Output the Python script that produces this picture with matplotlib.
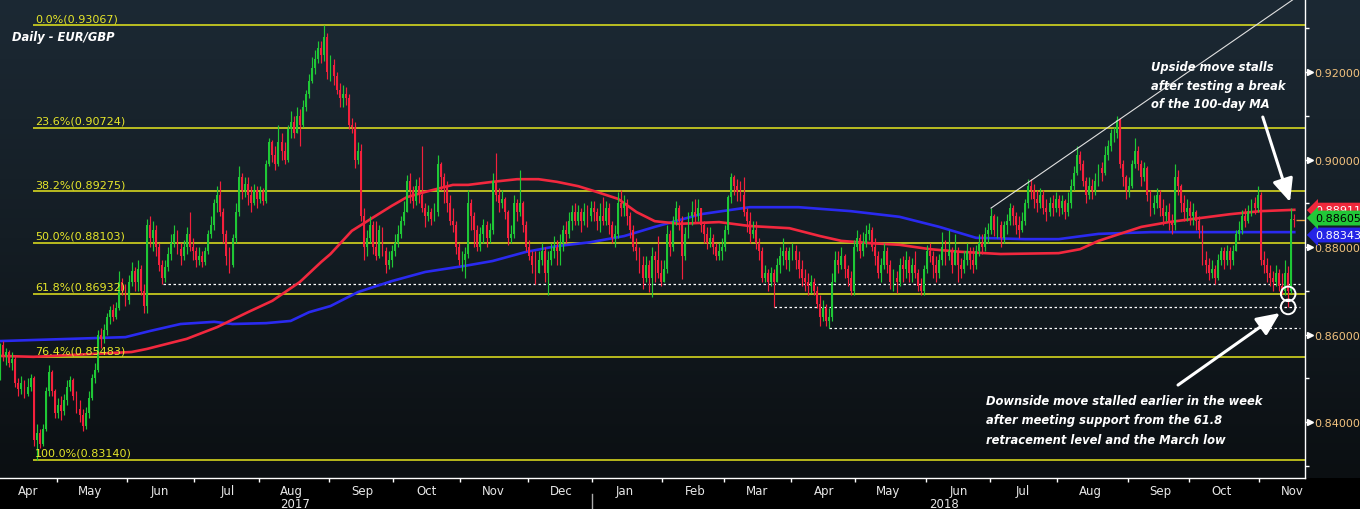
import numpy as np
import pandas as pd
import matplotlib
matplotlib.use('Agg')
import matplotlib.pyplot as plt
from matplotlib.colors import LinearSegmentedColormap

# EUR/GBP daily candles, in pips (x 0.0001); open = previous close
first_open = 8510
close_pips = [
    8575, 8550, 8560, 8535, 8545, 8490, 8475, 8490, 8465, 8480, 8500, 8360, 8375, 8350, 8385, 8470, 8515, 8470, 8420,  # Apr 17
    8440, 8425, 8450, 8480, 8495, 8460, 8430, 8415, 8390, 8420, 8455, 8500, 8520, 8600, 8590, 8610, 8640, 8655, 8640, 8660, 8720, 8700, 8680,  # May
    8720, 8745, 8720, 8750, 8700, 8665, 8850, 8820, 8840, 8800, 8760, 8730, 8755, 8785, 8810, 8830, 8795, 8780, 8800, 8830, 8800, 8790,  # Jun
    8770, 8780, 8765, 8790, 8830, 8850, 8900, 8920, 8880, 8830, 8780, 8760, 8820, 8880, 8960, 8930, 8945, 8920, 8900, 8930, 8910,  # Jul
    8925, 8905, 8990, 9040, 9010, 8990, 9040, 9020, 9000, 9070, 9085, 9060, 9100, 9080, 9120, 9150, 9180, 9210, 9230, 9255, 9240, 9280, 9200,  # Aug
    9215, 9190, 9160, 9140, 9150, 9140, 9080, 9075, 9000, 9020, 8870, 8800, 8820, 8850, 8800, 8780, 8840, 8790, 8760, 8770, 8790,  # Sep
    8810, 8830, 8860, 8880, 8950, 8930, 8905, 8940, 8920, 8890, 8870, 8880, 8865, 8880, 8990, 8960, 8940, 8900, 8860, 8850, 8800, 8770,  # Oct
    8770, 8785, 8900, 8870, 8840, 8800, 8830, 8850, 8820, 8840, 8950, 8920, 8900, 8910, 8880, 8820, 8830, 8900, 8880, 8900, 8850, 8800,  # Nov
    8780, 8760, 8740, 8770, 8790, 8740, 8770, 8790, 8800, 8790, 8810, 8840, 8830, 8860, 8880, 8860, 8880, 8860, 8880, 8870, 8890,  # Dec
    8880, 8860, 8870, 8860, 8890, 8850, 8820, 8830, 8900, 8890, 8900, 8870, 8840, 8800, 8790, 8760, 8730, 8760, 8730, 8780, 8770, 8740, 8720,  # Jan 18
    8750, 8830, 8800, 8860, 8890, 8860, 8780, 8830, 8870, 8880, 8870, 8890, 8850, 8830, 8810, 8820, 8800, 8780, 8790, 8800,  # Feb
    8840, 8915, 8960, 8940, 8925, 8920, 8880, 8860, 8830, 8840, 8810, 8790, 8730, 8740, 8720, 8740, 8720, 8760, 8780, 8790, 8770, 8790,  # Mar
    8790, 8770, 8750, 8730, 8720, 8710, 8720, 8700, 8670, 8640, 8660, 8630, 8640, 8720, 8770, 8760, 8780, 8750, 8730, 8700, 8800,  # Apr
    8820, 8790, 8810, 8830, 8840, 8800, 8780, 8740, 8760, 8790, 8760, 8720, 8730, 8720, 8760, 8750, 8770, 8740, 8760, 8740, 8710, 8700, 8750,  # May
    8790, 8780, 8760, 8740, 8770, 8800, 8780, 8790, 8760, 8790, 8760, 8750, 8770, 8790, 8770, 8760, 8790, 8810, 8800, 8830, 8840,  # Jun
    8870, 8840, 8850, 8820, 8850, 8860, 8890, 8870, 8850, 8840, 8860, 8900, 8940, 8930, 8910, 8900, 8920, 8890, 8880, 8900, 8890, 8910,  # Jul
    8890, 8905, 8880, 8900, 8940, 8970, 9010, 8990, 8950, 8920, 8940, 8930, 8950, 8980, 8970, 9010, 9030, 9060, 9060, 9090, 8990, 8960, 8930,  # Aug
    8940, 8990, 9020, 8990, 8960, 8980, 8920, 8890, 8900, 8920, 8890, 8870, 8880, 8860, 8850, 8960, 8940, 8900, 8880, 8890,  # Sep
    8870, 8880, 8860, 8840, 8770, 8760, 8740, 8750, 8730, 8770, 8790, 8770, 8790, 8770, 8790, 8830, 8840, 8870, 8860, 8880, 8900, 8890, 8920,  # Oct
    8770, 8760, 8740, 8730, 8720, 8740, 8710, 8700, 8740, 8700, 8865, 8861,  # Nov
]
high_pips = [
    8580, 8585, 8570, 8565, 8560, 8550, 8500, 8505, 8495, 8500, 8510, 8505, 8395, 8385, 8395, 8480, 8530, 8520, 8475,
    8455, 8460, 8465, 8495, 8505, 8500, 8470, 8450, 8430, 8435, 8470, 8510, 8535, 8610, 8615, 8625, 8650, 8665, 8670, 8675, 8745, 8730, 8715,
    8735, 8765, 8755, 8770, 8760, 8715, 8865, 8870, 8860, 8850, 8810, 8770, 8770, 8800, 8830, 8850, 8840, 8810, 8815, 8845, 8880, 8820,
    8800, 8800, 8790, 8800, 8840, 8870, 8910, 8940, 8950, 8890, 8840, 8800, 8830, 8900, 8985, 8970, 8960, 8960, 8940, 8945, 8940,
    8940, 8935, 9000, 9050, 9045, 9030, 9080, 9060, 9040, 9080, 9110, 9100, 9120, 9115, 9135, 9160, 9195, 9235, 9250, 9270, 9270, 9307, 9290,
    9240, 9230, 9200, 9175, 9170, 9165, 9150, 9095, 9085, 9040, 9035, 8890, 8840, 8870, 8860, 8860, 8850, 8845, 8800, 8790, 8805,
    8830, 8850, 8870, 8905, 8965, 8970, 8940, 8955, 8960, 9030, 8900, 8895, 8890, 8900, 9010, 8995, 8970, 8950, 8920, 8890, 8860, 8810,
    8790, 8800, 8930, 8910, 8880, 8850, 8845, 8865, 8860, 8855, 8970, 9015, 8935, 8930, 8915, 8885, 8850, 8920, 8910, 8975, 8905, 8860,
    8815, 8790, 8790, 8790, 8810, 8800, 8790, 8810, 8825, 8815, 8830, 8850, 8860, 8880, 8895, 8900, 8895, 8890, 8900, 8895, 8905,
    8905, 8890, 8900, 8915, 8905, 8900, 8860, 8850, 8925, 8930, 8920, 8910, 8880, 8850, 8820, 8800, 8780, 8780, 8770, 8800, 8790, 8825, 8770,
    8770, 8850, 8840, 8870, 8905, 8895, 8870, 8845, 8880, 8905, 8910, 8910, 8890, 8860, 8845, 8845, 8830, 8810, 8810, 8820,
    8850, 8920, 8970, 8965, 8955, 8950, 8960, 8890, 8880, 8860, 8860, 8820, 8800, 8760, 8750, 8755, 8750, 8775, 8800, 8820, 8800, 8800,
    8810, 8805, 8790, 8770, 8750, 8740, 8735, 8730, 8710, 8690, 8680, 8670, 8660, 8740, 8790, 8790, 8800, 8785, 8760, 8745, 8815,
    8840, 8830, 8835, 8850, 8855, 8845, 8820, 8790, 8775, 8810, 8800, 8770, 8750, 8745, 8775, 8780, 8790, 8780, 8775, 8790, 8750, 8730, 8760,
    8805, 8810, 8790, 8780, 8785, 8835, 8815, 8840, 8800, 8830, 8800, 8775, 8790, 8810, 8800, 8800, 8805, 8830, 8830, 8845, 8855,
    8890, 8875, 8870, 8860, 8860, 8875, 8900, 8895, 8880, 8870, 8880, 8910, 8955, 8955, 8945, 8930, 8935, 8930, 8910, 8915, 8920, 8925,
    8920, 8920, 8910, 8925, 8955, 8985, 9030, 9020, 9000, 8960, 8960, 8955, 8970, 8990, 8995, 9030, 9045, 9070, 9075, 9100, 9095, 9000, 8965,
    8960, 9000, 9050, 9030, 9000, 8995, 8985, 8930, 8920, 8935, 8930, 8910, 8895, 8900, 8875, 8990, 8975, 8945, 8920, 8910,
    8905, 8900, 8885, 8870, 8850, 8790, 8775, 8770, 8760, 8785, 8800, 8800, 8805, 8800, 8805, 8840, 8860, 8885, 8890, 8895, 8910, 8915, 8940,
    8925, 8790, 8775, 8760, 8745, 8760, 8750, 8740, 8770, 8757, 8890, 8875,
]
low_pips = [
    8495, 8540, 8530, 8525, 8520, 8480, 8460, 8465, 8455, 8460, 8470, 8345, 8314, 8340, 8345, 8380, 8460, 8460, 8410,
    8410, 8405, 8415, 8440, 8470, 8450, 8420, 8400, 8380, 8385, 8410, 8450, 8490, 8515, 8570, 8580, 8600, 8625, 8630, 8635, 8655, 8690, 8665,
    8670, 8710, 8700, 8700, 8690, 8650, 8650, 8800, 8790, 8780, 8745, 8715, 8720, 8745, 8770, 8800, 8785, 8760, 8770, 8785, 8790, 8770,
    8755, 8760, 8755, 8760, 8785, 8820, 8840, 8880, 8870, 8810, 8760, 8740, 8755, 8810, 8870, 8910, 8915, 8895, 8880, 8895, 8890,
    8900, 8895, 8900, 8985, 8995, 8975, 8985, 9000, 8990, 8995, 9050, 9050, 9060, 9030, 9075, 9110, 9140, 9175, 9195, 9220, 9220, 9225, 9185,
    9180, 9170, 9150, 9120, 9120, 9125, 9070, 9060, 8980, 8990, 8860, 8770, 8780, 8810, 8785, 8770, 8775, 8780, 8740, 8750, 8755,
    8780, 8800, 8820, 8850, 8880, 8900, 8890, 8895, 8900, 8880, 8845, 8860, 8850, 8860, 8870, 8930, 8900, 8880, 8850, 8835, 8785, 8760,
    8745, 8730, 8775, 8840, 8800, 8790, 8790, 8810, 8800, 8810, 8830, 8905, 8880, 8890, 8865, 8805, 8810, 8820, 8860, 8870, 8835, 8790,
    8770, 8740, 8715, 8740, 8760, 8720, 8690, 8760, 8775, 8760, 8760, 8790, 8810, 8820, 8840, 8850, 8850, 8835, 8850, 8845, 8860,
    8860, 8840, 8835, 8850, 8850, 8830, 8810, 8800, 8820, 8870, 8870, 8850, 8820, 8790, 8770, 8740, 8704, 8720, 8697, 8685, 8720, 8730, 8710,
    8730, 8740, 8780, 8790, 8850, 8840, 8727, 8770, 8820, 8850, 8855, 8860, 8835, 8810, 8795, 8800, 8785, 8770, 8770, 8770,
    8790, 8830, 8900, 8920, 8905, 8905, 8870, 8835, 8810, 8820, 8795, 8770, 8720, 8720, 8700, 8710, 8663, 8720, 8740, 8760, 8750, 8745,
    8770, 8750, 8730, 8710, 8700, 8690, 8695, 8690, 8660, 8620, 8630, 8620, 8615, 8630, 8720, 8740, 8750, 8730, 8710, 8690, 8690,
    8790, 8775, 8780, 8800, 8815, 8790, 8760, 8730, 8720, 8750, 8740, 8705, 8700, 8695, 8710, 8720, 8730, 8720, 8720, 8730, 8700, 8690, 8690,
    8740, 8765, 8730, 8720, 8730, 8760, 8760, 8770, 8740, 8760, 8720, 8730, 8740, 8760, 8750, 8740, 8750, 8780, 8785, 8790, 8810,
    8830, 8825, 8820, 8800, 8810, 8830, 8850, 8850, 8830, 8820, 8835, 8850, 8890, 8910, 8890, 8880, 8890, 8875, 8860, 8870, 8870, 8880,
    8870, 8875, 8865, 8870, 8890, 8930, 8965, 8975, 8940, 8900, 8910, 8910, 8920, 8940, 8950, 8965, 9000, 9020, 9040, 9050, 8980, 8940, 8910,
    8915, 8935, 8980, 8975, 8940, 8950, 8905, 8870, 8875, 8890, 8870, 8850, 8860, 8840, 8830, 8840, 8920, 8880, 8860, 8860,
    8850, 8850, 8840, 8820, 8760, 8740, 8725, 8730, 8715, 8725, 8760, 8750, 8760, 8750, 8760, 8790, 8815, 8830, 8845, 8855, 8870, 8875, 8880,
    8760, 8740, 8720, 8710, 8700, 8710, 8700, 8693, 8690, 8663, 8695, 8845,
]

# 100-day (red) and 200-day (blue) moving averages, read at bar positions
red_ma_idx = [0, 11, 43, 48, 61, 71, 81, 89, 98, 105, 108, 115, 120, 128, 133, 139, 148, 153, 161, 169,
              176, 182, 189, 195, 202, 208, 214, 222, 235, 245, 258, 268, 275, 284, 294, 304, 314, 327,
              346, 353, 359, 373, 382, 392, 402, 412, 423]
red_ma = [8551, 8549, 8560, 8567, 8590, 8617, 8651, 8677, 8720, 8766, 8784, 8837, 8859, 8894, 8914, 8926,
          8942, 8942, 8949, 8955, 8955, 8949, 8939, 8926, 8910, 8880, 8859, 8853, 8857, 8848, 8843, 8825,
          8814, 8809, 8805, 8795, 8789, 8784, 8786, 8795, 8814, 8846, 8857, 8866, 8875, 8882, 8885]
blue_ma_idx = [0, 41, 49, 59, 70, 76, 87, 95, 101, 108, 117, 128, 139, 152, 161, 172, 182, 193, 204, 214,
               229, 245, 261, 278, 294, 307, 319, 335, 346, 359, 376, 392, 408, 423]
blue_ma = [8585, 8594, 8608, 8624, 8629, 8624, 8626, 8631, 8651, 8665, 8697, 8722, 8743, 8757, 8768, 8789,
           8802, 8811, 8825, 8846, 8875, 8891, 8891, 8882, 8869, 8846, 8821, 8818, 8818, 8830, 8834, 8834,
           8834, 8834]

# Fibonacci retracement levels
fib_pct = ['0.0%', '23.6%', '38.2%', '50.0%', '61.8%', '76.4%', '100.0%']
fib_val = [0.93067, 0.90724, 0.89275, 0.88103, 0.86932, 0.85483, 0.83140]
fib_start = 10.8

# dotted support lines (level, first bar)
support_val = [0.8715, 0.8663, 0.8615]
support_start = [53.3, 253, 271]

circle_idx = [421, 421]
circle_val = [0.8693, 0.8663]

trend_idx = [323.9, 432]
trend_val = [0.8889, 0.9411]

# arrows: tail bar, tail price, head bar, head price
arrows = [(412.7, 0.90971, 421.6, 0.89029),
          (385.0, 0.84845, 418.3, 0.86491)]

tag_vals = [0.88911, 0.88343, 0.88605]
tag_cols = ['#f0283c', '#2424e6', '#22c838']
tag_txt = ['white', 'white', 'black']
tag_shift = [-3, -3, 2.5]   # px nudge

close = np.array(close_pips) / 1e4
high = np.array(high_pips) / 1e4
low = np.array(low_pips) / 1e4
opn = np.r_[first_open / 1e4, close[:-1]]
high = np.maximum(high, np.maximum(opn, close))
low = np.minimum(low, np.minimum(opn, close))
n = len(close)
idx = np.arange(n)
dates = pd.bdate_range('2017-04-04', periods=n)

W, H = 1360, 510
fig = plt.figure(figsize=(W / 100, H / 100), dpi=100)
fig.patch.set_facecolor('black')

bg = fig.add_axes([0, 31 / H, 1, 479 / H], zorder=0)
bg.axis('off')
cmap = LinearSegmentedColormap.from_list('bg', ['#1c2934', '#141d24', '#0b0f12'])
bg.imshow(np.linspace(0, 1, 256).reshape(-1, 1), aspect='auto', cmap=cmap,
          extent=[0, 1, 0, 1], origin='upper')

ax = fig.add_axes([0, 31 / H, 1305 / W, 479 / H], zorder=1)
ax.patch.set_alpha(0)
x_max = 426.5
ax.set_xlim(0, x_max)
ax.set_ylim(0.82720, 0.93669)

# fib levels
ax.hlines(fib_val, fib_start, x_max, color='#e6e61e', lw=1.1, zorder=2)
for p, v in zip(fib_pct, fib_val):
    ax.annotate('%s(%.5f)' % (p, v), (fib_start, v), xytext=(1.5, 1.5),
                textcoords='offset points', color='#e6e62a', fontsize=8, va='bottom', zorder=6)

for v, s in zip(support_val, support_start):
    ax.hlines(v, s, 424.8, color='white', lw=0.9, linestyles=(0, (2, 2)), zorder=2)

# moving averages
ax.plot(blue_ma_idx, np.array(blue_ma) / 1e4, color='#2a2af0', lw=1.9, zorder=3)
ax.plot(red_ma_idx, np.array(red_ma) / 1e4, color='#f2283e', lw=1.9, zorder=3)

# candles
up = close >= opn
col = np.where(up, '#1fc836', '#f4203c')
ax.vlines(idx, low, high, colors=col, lw=0.85, zorder=4)
ax.bar(idx, close - opn, bottom=opn, width=0.62, color=col, lw=0, zorder=4)

ax.plot(trend_idx, trend_val, color='#e0e0e0', lw=0.8, zorder=5)
ax.scatter(circle_idx, circle_val, s=110, facecolors='none', edgecolors='white', lw=1.4, zorder=6)
for tx, ty, hx, hy in arrows:
    ax.annotate('', xy=(hx, hy), xytext=(tx, ty),
                arrowprops=dict(arrowstyle='-|>,head_width=0.45,head_length=1.0', color='white',
                                lw=2.2, shrinkA=0, shrinkB=0, mutation_scale=14), zorder=6)

# spines / axes
for s in ['top', 'left']:
    ax.spines[s].set_visible(False)
for s in ['bottom', 'right']:
    ax.spines[s].set_color('white')
    ax.spines[s].set_linewidth(1)

yt = np.round(np.arange(0.83, 0.9305, 0.01), 2)
ax.yaxis.tick_right()
ax.set_yticks(yt)
ax.set_yticklabels(['%.5f' % v if round(v * 100) % 2 == 0 else '' for v in yt])
ax.tick_params(axis='y', colors='white', labelcolor='#f2c27e', length=3, width=1,
               pad=4, labelsize=8)
major_y = [v for v in yt if round(v * 100) % 2 == 0]
ax.plot([1.004] * len(major_y), major_y, transform=ax.get_yaxis_transform(), ls='none',
        marker='>', ms=4.5, color='white', clip_on=False, zorder=7)

month_start = [i for i in range(1, n) if dates[i].month != dates[i - 1].month]
bounds = np.array(month_start) - 0.5
starts = [-1.5] + list(bounds)
names = [dates[0].strftime('%b')] + [dates[i].strftime('%b') for i in month_start]
ax.set_xticks(bounds, minor=True)
ax.set_xticks([s + 10.8 for s in starts])
ax.set_xticklabels(names, family=['Liberation Sans Narrow', 'DejaVu Sans'])
ax.tick_params(axis='x', which='minor', colors='white', length=3, width=1)
ax.tick_params(axis='x', which='major', length=0, labelcolor='#e8e8e8', labelsize=8.5, pad=4)

xt = ax.get_xaxis_transform()
for yr in sorted(set(dates.year)):
    pos = idx[dates.year == yr].mean()
    ax.text(pos, -26 / 479, str(yr), transform=xt, ha='center', va='center', color='#e8e8e8',
            fontsize=8.5, family=['Liberation Sans Narrow', 'DejaVu Sans'], clip_on=False)
jan = bounds[[dates[i].year for i in month_start].index(2018)]
ax.plot([jan, jan], [-16 / 479, -31 / 479], transform=xt, color='#aaaaaa', lw=1, clip_on=False)

# current price marker
ax.hlines(close[-1], n - 0.5, x_max, color='#e8a040', lw=1, zorder=5)

# price tags on the right
for v, c, tc, sh in zip(tag_vals, tag_cols, tag_txt, tag_shift):
    ypx = 73 + (0.92 - v) * 4375 - sh
    fig.text(1315 / W, 1 - ypx / H, '%.5f' % v, color=tc, fontsize=8, ha='left', va='center',
             bbox=dict(boxstyle='larrow,pad=0.22', fc=c, ec='none'), zorder=5)

# text
tkw = dict(color='white', fontsize=8.3, fontweight='bold', fontstyle='italic', ha='left', va='center')
fig.text(12 / W, 1 - 38 / H, 'Daily - EUR/GBP', **tkw)
for line, y in zip(['Upside move stalls', 'after testing a break', 'of the 100-day MA'],
                   [68, 86.5, 105]):
    fig.text(1151 / W, 1 - y / H, line, **tkw)
for line, y in zip(['Downside move stalled earlier in the week',
                    'after meeting support from the 61.8',
                    'retracement level and the March low'], [401.7, 421, 440]):
    fig.text(986 / W, 1 - y / H, line, **tkw)

fig.savefig('out.png', dpi=100, facecolor=fig.get_facecolor())
